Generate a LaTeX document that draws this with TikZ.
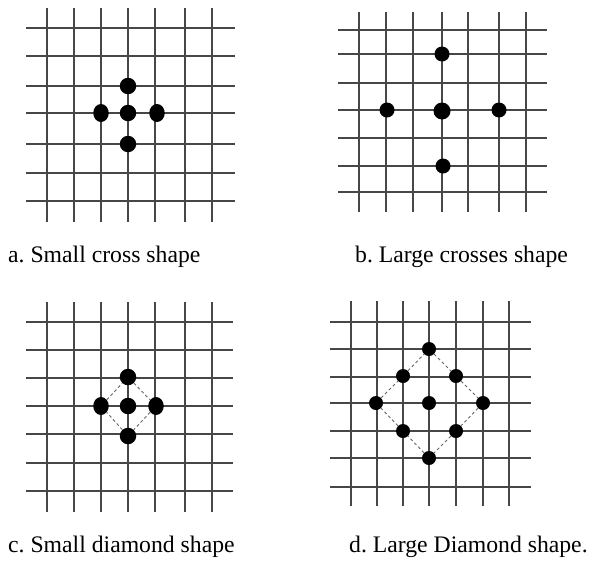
\documentclass[tikz,border=0pt]{standalone}
\usepackage{fontspec}
\setmainfont{Liberation Serif}
\usetikzlibrary{shapes.geometric}
\frenchspacing
\begin{document}
\begin{tikzpicture}[x=1pt,y=-1pt,
  gridline/.style={draw=black!72,line width=1.15pt},
  dot/.style={circle,fill=black,inner sep=0pt,minimum size=#1},
  dot/.default=16.5pt,
  wdot/.style={ellipse,fill=black,inner sep=0pt,minimum width=15.5pt,minimum height=18pt},
  dashline/.style={draw=black!60,line width=0.9pt,dash pattern=on 3pt off 2.5pt},
  caption/.style={anchor=base west,inner sep=0pt,font=\fontsize{23.7}{28}\selectfont}]
\useasboundingbox (0,0) rectangle (591,562);
% ---------- panel a ----------
\foreach \x in {47,74,101,128,155,185,212} \draw[gridline] (\x,8) -- (\x,222);
\foreach \y in {28,56,86,113,144,173,201} \draw[gridline] (26,\y) -- (235,\y);
\node[dot] (ac) at (128,113) {};
\node[dot] (at) at (128,86) {};
\node[dot] (ab) at (128,144) {};
\node[wdot] (al) at (101,113) {};
\node[wdot] (ar) at (157,113) {};
\node[caption] (capa) at (8,262) {a. Small cross shape};
% ---------- panel b ----------
\foreach \x in {359,386,413,442,468,499,526} \draw[gridline] (\x,12) -- (\x,212);
\foreach \y in {30,54,83,110,138,166,192} \draw[gridline] (338,\y) -- (547,\y);
\node[dot=17pt] (bc) at (442,111) {};
\node[dot=15pt] (bt) at (442,54) {};
\node[dot=15pt] (bb) at (443,166) {};
\node[dot=15pt] (bl) at (387,110) {};
\node[dot=15pt] (br) at (499,110) {};
\node[caption] (capb) at (355,262) {b. Large crosses shape};
% ---------- panel c ----------
\foreach \x in {47,74,101,128,155,185,212} \draw[gridline] (\x,302) -- (\x,512);
\foreach \y in {322,350,378,406,434,463,491} \draw[gridline] (26,\y) -- (233,\y);
\node[dot] (cc) at (128,406) {};
\node[dot] (ct) at (128,377) {};
\node[dot] (cb) at (128,436) {};
\node[wdot] (cl) at (101,406) {};
\node[wdot] (cr) at (156,406) {};
\draw[dashline] (ct) -- (cr);
\draw[dashline] (cr) -- (cb);
\draw[dashline] (cb) -- (cl);
\draw[dashline] (cl) -- (ct);
\node[caption] (capc) at (8,552) {c. Small diamond shape};
% ---------- panel d ----------
\foreach \x in {351,377,403,429,456,483,509} \draw[gridline] (\x,301) -- (\x,506);
\foreach \y in {322,349,377,403,431,458,487} \draw[gridline] (330,\y) -- (531,\y);
\node[dot=14pt] (dc) at (429,403) {};
\node[dot=14pt] (dt) at (429,349) {};
\node[dot=14pt] (dtl) at (403,376) {};
\node[dot=14pt] (dtr) at (456,376) {};
\node[dot=14pt] (dl) at (376,403) {};
\node[dot=14pt] (dr) at (483,403) {};
\node[dot=14pt] (dbl) at (403,431) {};
\node[dot=14pt] (dbr) at (456,431) {};
\node[dot=14pt] (db) at (429,458) {};
\draw[dashline] (dt) -- (dtr);
\draw[dashline] (dtr) -- (dr);
\draw[dashline] (dr) -- (dbr);
\draw[dashline] (dbr) -- (db);
\draw[dashline] (db) -- (dbl);
\draw[dashline] (dbl) -- (dl);
\draw[dashline] (dl) -- (dtl);
\draw[dashline] (dtl) -- (dt);
\node[caption] (capd) at (349,552) {d. Large Diamond shape.};
\end{tikzpicture}
\end{document}
